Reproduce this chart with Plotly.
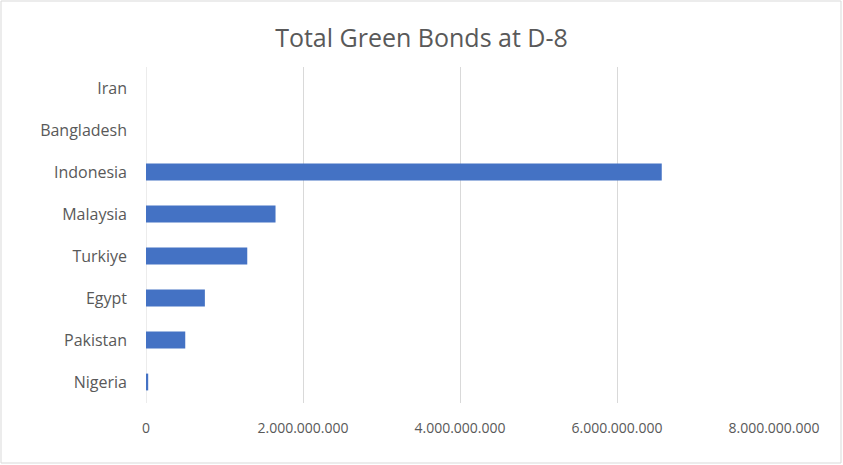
import plotly.graph_objects as go

countries = ["Iran", "Bangladesh", "Indonesia", "Malaysia", "Turkiye", "Egypt", "Pakistan", "Nigeria"]
green_bonds = [0, 0, 6570000000, 1650000000, 1290000000, 750000000, 500000000, 28000000]
x_ticks = [0, 2000000000, 4000000000, 6000000000, 8000000000]

W, H = 843, 465
ML, MR, MT, MB = 146, 69, 67, 62
pw, ph = W - ML - MR, H - MT - MB

fig = go.Figure(go.Bar(
    x=green_bonds, y=countries, orientation="h",
    marker=dict(color="#4472C4", line=dict(width=0)),
    width=0.4,
))

fig.update_layout(
    width=W, height=H,
    margin=dict(l=ML, r=MR, t=MT, b=MB, autoexpand=False),
    paper_bgcolor="white", plot_bgcolor="white",
    separators=",.",
    showlegend=False,
    title=dict(text="Total Green Bonds at D-8", x=0.5, xanchor="center",
               y=1 - 38 / H, yanchor="middle",
               font=dict(family="Open Sans", size=25, color="#595959")),
    font=dict(family="Open Sans", color="#595959", size=16),
    xaxis=dict(range=[0, 8000000000], tickvals=x_ticks, tickformat=",d",
               showgrid=True, gridcolor="#D9D9D9", gridwidth=1,
               zeroline=False, showline=False, ticks="", automargin=False,
               tickfont=dict(size=14, color="#595959"), ticklabelstandoff=15),
    yaxis=dict(autorange="reversed", showgrid=False, zeroline=False,
               showline=False, ticks="", automargin=False,
               tickfont=dict(size=16, color="#595959"), ticklabelstandoff=18),
    shapes=[
        dict(type="line", xref="x", yref="paper", x0=0, x1=0, y0=0, y1=1,
             line=dict(color="#D9D9D9", width=1), layer="below"),
        dict(type="rect", xref="paper", yref="paper",
             x0=(1 - ML) / pw, x1=1 + (MR - 2) / pw,
             y0=-(MB - 2) / ph, y1=1 + (MT - 1) / ph,
             line=dict(color="#D9D9D9", width=1)),
    ],
)

fig.write_html(
    "out.html",
    config={"displayModeBar": False},
    post_script="document.body.style.margin='0';document.body.style.padding='0';",
)
